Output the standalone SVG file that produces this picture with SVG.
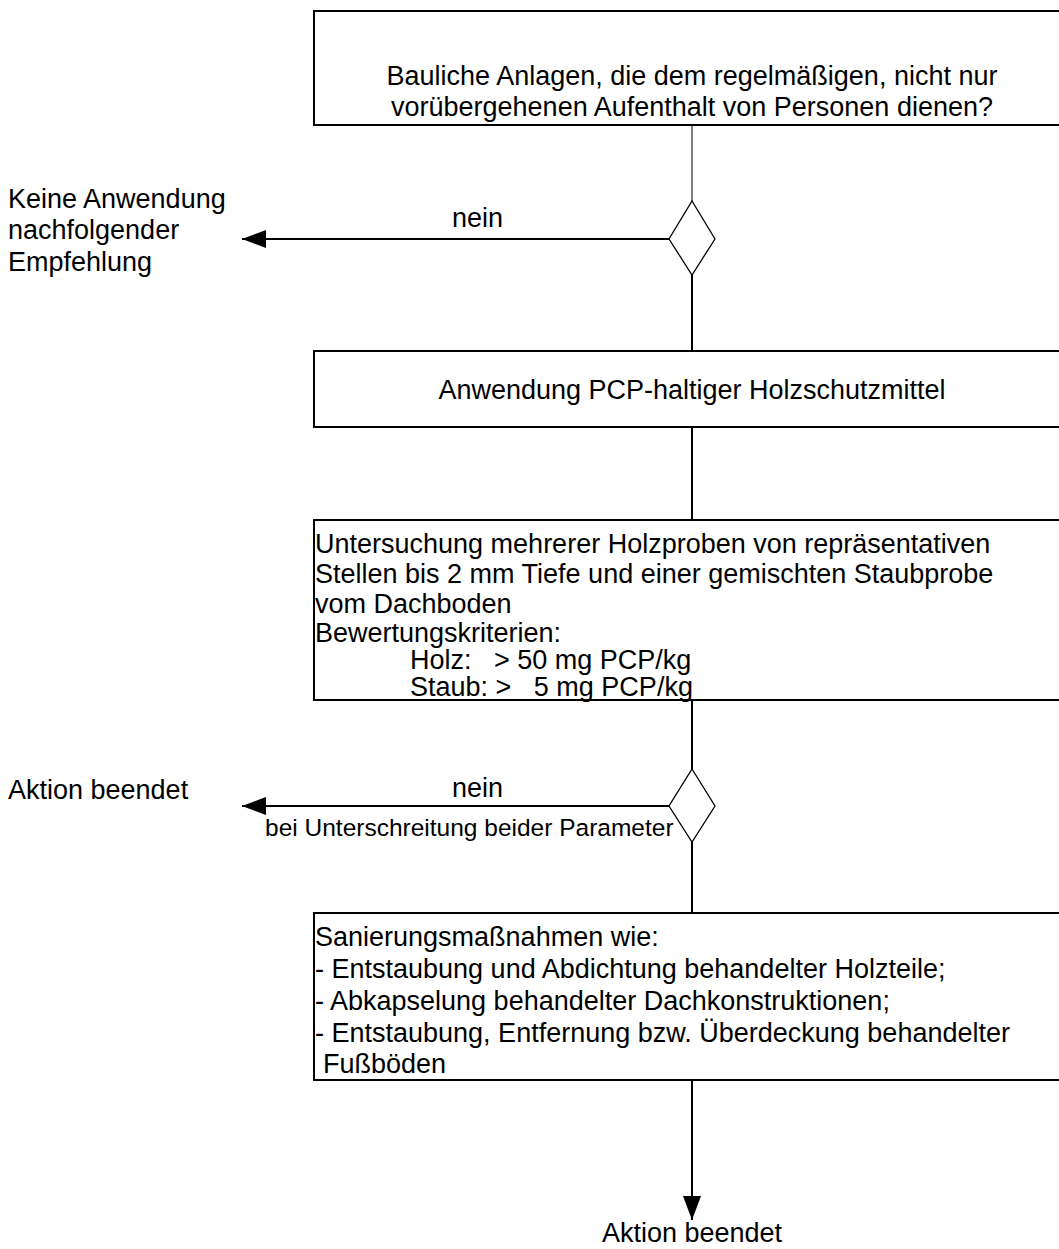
<svg xmlns="http://www.w3.org/2000/svg" width="1059" height="1249" viewBox="0 0 1059 1249">
<style>
.box{fill:#fff;stroke:#000;stroke-width:2}
.dia{fill:#fff;stroke:#000;stroke-width:1.3}
.ln{stroke:#000;stroke-width:2;fill:none}
.thin{stroke:#000;stroke-width:1;fill:none}
text{font-family:"Liberation Sans",Arial,sans-serif;font-size:27px;fill:#000}
.sm{font-size:24.5px}
.c{text-anchor:middle}
</style>
<defs>
<marker id="ah" markerUnits="userSpaceOnUse" markerWidth="26" markerHeight="20" refX="24" refY="9" orient="auto">
<path d="M0,0 L24,9 L0,18 Z" fill="#000"/>
</marker>
</defs>
<g id="connectors">
<line class="thin" x1="692" y1="125" x2="692" y2="201"/>
<line class="ln" x1="669" y1="239" x2="242" y2="239" marker-end="url(#ah)"/>
<line class="ln" x1="692" y1="275" x2="692" y2="351"/>
<line class="ln" x1="692" y1="427" x2="692" y2="520"/>
<line class="ln" x1="692" y1="700" x2="692" y2="769"/>
<line class="ln" x1="669" y1="806" x2="242" y2="806" marker-end="url(#ah)"/>
<line class="ln" x1="692" y1="842" x2="692" y2="913"/>
<line class="ln" x1="692" y1="1080" x2="692" y2="1220" marker-end="url(#ah)"/>
<text x="452" y="227">nein</text>
<text x="452" y="797">nein</text>
<text class="sm" x="265" y="836">bei Unterschreitung beider Parameter</text>
</g>
<g id="n1">
<rect class="box" x="314" y="11" width="760" height="114"/>
<text class="c" x="692" y="85">Bauliche Anlagen, die dem regelmäßigen, nicht nur</text>
<text class="c" x="692" y="116">vorübergehenen Aufenthalt von Personen dienen?</text>
</g>
<g id="d1">
<polygon class="dia" points="692,201 715,239 692,275 669,239"/>
</g>
<g id="t1">
<text x="8" y="208">Keine Anwendung</text>
<text x="8" y="239">nachfolgender</text>
<text x="8" y="271">Empfehlung</text>
</g>
<g id="n2">
<rect class="box" x="314" y="351" width="760" height="76"/>
<text class="c" x="692" y="399">Anwendung PCP-haltiger Holzschutzmittel</text>
</g>
<g id="n3">
<rect class="box" x="314" y="520" width="760" height="180"/>
<text x="315" y="553">Untersuchung mehrerer Holzproben von repräsentativen</text>
<text x="315" y="583">Stellen bis 2 mm Tiefe und einer gemischten Staubprobe</text>
<text x="315" y="613">vom Dachboden</text>
<text x="315" y="642">Bewertungskriterien:</text>
<text x="410" y="669" xml:space="preserve">Holz:   &gt; 50 mg PCP/kg</text>
<text x="410" y="696" xml:space="preserve">Staub: &gt;   5 mg PCP/kg</text>
</g>
<g id="d2">
<polygon class="dia" points="692,769 715,806 692,842 669,806"/>
</g>
<g id="t2">
<text x="8" y="799">Aktion beendet</text>
</g>
<g id="n4">
<rect class="box" x="314" y="913" width="760" height="167"/>
<text x="315" y="946">Sanierungsmaßnahmen wie:</text>
<text x="315" y="978">- Entstaubung und Abdichtung behandelter Holzteile;</text>
<text x="315" y="1010">- Abkapselung behandelter Dachkonstruktionen;</text>
<text x="315" y="1042">- Entstaubung, Entfernung bzw. Überdeckung behandelter</text>
<text x="323" y="1073">Fußböden</text>
</g>
<g id="t3">
<text class="c" x="692" y="1242">Aktion beendet</text>
</g>
</svg>
